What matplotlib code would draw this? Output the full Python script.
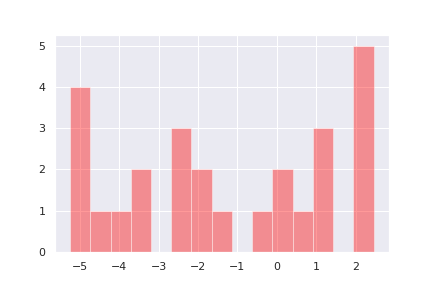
import numpy as np
import matplotlib
matplotlib.use('Agg')
import matplotlib.pyplot as plt
import seaborn as sns

# 히스토그램 구간별 개수
counts = [4, 1, 1, 2, 0, 3, 2, 1, 0, 1, 2, 1, 3, 0, 5]
data_min = -5.25
data_max = 2.46

sns.set()

bin_edges = np.linspace(data_min, data_max, len(counts) + 1)

plt.figure(figsize=(6, 4), dpi=72)
plt.subplots_adjust(left=0.127, right=0.9, bottom=0.125, top=0.877)
plt.hist(bin_edges[:-1], bins=bin_edges, weights=counts, color='red', alpha=0.4)

plt.savefig('out.png', dpi=72)
